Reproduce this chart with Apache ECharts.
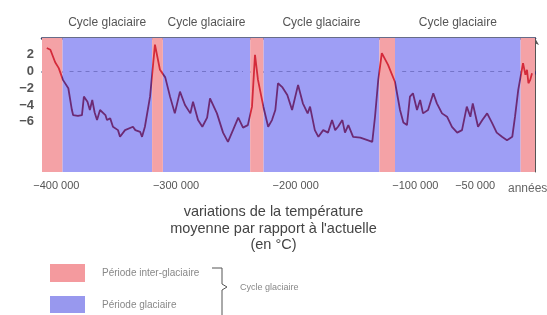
<!DOCTYPE html>
<html>
<head>
<meta charset="utf-8">
<script src="https://cdn.jsdelivr.net/npm/echarts@6/dist/echarts.min.js"></script>
<style>
  html, body { margin: 0; padding: 0; background: #fff; }
  #chart { width: 547px; height: 315px; }
</style>
</head>
<body>
<div id="chart"></div>
<script>
// années (avant aujourd'hui) et écart de température (°C)
var years = [-408000, -405000, -401000, -398000, -394500, -390000, -388600, -387000, -386000, -382000,
  -378600, -377000, -374000, -372000, -370000, -368000, -366000, -363500, -359000, -357700,
  -355000, -352700, -348500, -346800, -342600, -341000, -336000, -334000, -330000, -328400,
  -326000, -321700, -317600, -313400, -309000, -305000, -301000, -296700, -292500, -288000,
  -285800, -281600, -278000, -274000, -271600, -265800, -260700, -256600, -252400, -248000,
  -244000, -240000, -236500, -234000, -231500, -227000, -223000, -219800, -217000, -214800,
  -211000, -207000, -203000, -198000, -194000, -190000, -188000, -184000, -181000, -177000,
  -173000, -169600, -167000, -164600, -161000, -158800, -156000, -152000, -146000, -140000,
  -136000, -133700, -131000, -128000, -122800, -117000, -112800, -110000, -107000, -104500,
  -102000, -98600, -96000, -93600, -89400, -85000, -82000, -77700, -73500, -69400,
  -65000, -61000, -57000, -54000, -52000, -47600, -44000, -40000, -36000, -32000,
  -27600, -23400, -19000, -16700, -14000, -10000, -8000, -6700, -5500, -4000, -2500];
var temps = [2.8, 2.6, 1.1, 0.4, -1.0, -2.0, -2.2, -4.6, -5.2, -5.3,
  -5.2, -3.0, -3.6, -4.6, -3.4, -4.9, -5.8, -4.6, -5.2, -5.8,
  -5.6, -6.6, -7.0, -7.8, -7.0, -6.8, -6.6, -7.0, -7.2, -7.8,
  -6.6, -3.0, 3.2, 0.2, -0.7, -3.0, -5.0, -2.4, -4.0, -5.0,
  -3.6, -5.8, -6.6, -5.5, -3.2, -5.0, -7.3, -8.4, -7.0, -5.5,
  -6.7, -6.4, -4.2, 2.0, -1.0, -4.2, -6.6, -5.8, -4.6, -1.4,
  -1.9, -2.8, -4.6, -1.6, -3.8, -5.0, -4.2, -7.0, -7.8, -7.0,
  -7.3, -5.8, -7.0, -6.6, -5.8, -7.3, -6.4, -7.8, -7.9, -8.2,
  -8.4, -5.4, -1.0, 2.2, 0.8, -1.25, -4.6, -6.1, -6.4, -3.0,
  -2.6, -4.6, -3.4, -5.0, -4.6, -2.6, -3.8, -5.0, -5.4, -6.6,
  -7.3, -7.0, -4.2, -5.4, -3.8, -6.6, -5.8, -5.0, -6.1, -7.3,
  -7.8, -8.2, -7.8, -5.4, -2.2, 1.0, -0.4, 0.2, -1.4, -1.0, -0.2];

// périodes inter-glaciaires et glaciaires (années)
var interglacials = [[-412000, -395000], [-320000, -311000], [-238000, -227000], [-130000, -117000], [-12000, 0]];
var glacials = [[-395000, -320000], [-311000, -238000], [-227000, -130000], [-117000, -12000]];
var cycleLabel = 'Cycle glaciaire';

var xLabelValues = [-400000, -300000, -200000, -100000, -50000];
var yLabelValues = [-6, -4, -2, 0, 2];

var xTicks = [];
for (var t = -410000; t <= 0; t += 10000) xTicks.push(t);

var chart = echarts.init(document.getElementById('chart'));
var font = '"Liberation Sans", Arial, sans-serif';

function fmtYear(v) {
  var s = String(Math.abs(v));
  s = s.replace(/\B(?=(\d{3})+(?!\d))/g, ' ');
  return '\u2212' + s;
}

var option = {
  animation: false,
  textStyle: { fontFamily: font },
  title: {
    text: 'variations de la température\nmoyenne par rapport à l\'actuelle\n(en °C)',
    left: 'center',
    top: 199,
    textStyle: { fontSize: 14.5, fontWeight: 'normal', color: '#444', lineHeight: 16.5, fontFamily: font }
  },
  grid: { left: 42, right: 12, top: 38, bottom: 143 },
  xAxis: [{
    type: 'value',
    min: -412000,
    max: 0,
    axisLine: { lineStyle: { color: '#2c3468', width: 1.5 } },
    axisTick: { customValues: xTicks, length: 3, lineStyle: { color: '#2c3468' } },
    axisLabel: {
      customValues: xLabelValues,
      formatter: fmtYear,
      color: '#555',
      fontSize: 11,
      margin: 8
    },
    splitLine: { show: false }
  }, {
    type: 'value',
    position: 'top',
    min: -412000,
    max: 0,
    axisLine: { show: true, lineStyle: { color: '#343c62', width: 2.5 } },
    axisTick: { show: false },
    axisLabel: { show: false },
    splitLine: { show: false }
  }],
  yAxis: {
    type: 'value',
    min: -12,
    max: 4,
    interval: 2,
    axisLine: { show: true, symbol: ['none', 'arrow'], symbolSize: [6, 7], lineStyle: { color: '#555', width: 1 } },
    axisTick: { show: true, customValues: yLabelValues, length: 4, lineStyle: { color: '#666' } },
    axisLabel: {
      customValues: yLabelValues,
      formatter: function (v) { return v < 0 ? '\u2212' + Math.abs(v) : String(v); },
      color: '#555',
      fontSize: 13,
      fontWeight: 'bold',
      margin: 8,
      padding: [0, 0, 6, 0]
    },
    splitLine: { show: false }
  },
  visualMap: {
    show: false,
    type: 'piecewise',
    dimension: 0,
    seriesIndex: 2,
    pieces: interglacials.map(function (s) { return { gte: s[0], lte: s[1], color: '#d42a3a' }; }),
    outOfRange: { color: '#6c2a74' }
  },
  series: [{
    name: 'Période glaciaire',
    type: 'line',
    data: [],
    silent: true,
    markArea: {
      silent: true,
      itemStyle: { color: '#9e9ef5' },
      label: {
        show: true,
        position: 'top',
        distance: 9,
        color: '#555',
        fontSize: 12,
        fontFamily: font
      },
      data: glacials.map(function (s) { return [{ name: cycleLabel, xAxis: s[0] }, { xAxis: s[1] }]; })
    },
    markLine: {
      silent: true,
      symbol: 'none',
      label: { show: false },
      lineStyle: { color: '#7474c8', type: [4, 4], width: 1 },
      data: glacials.map(function (s) { return [{ coord: [s[0] + 6000, 0] }, { coord: [s[1] - 6000, 0] }]; })
    }
  }, {
    name: 'Période inter-glaciaire',
    type: 'line',
    data: [],
    silent: true,
    markArea: {
      silent: true,
      itemStyle: { color: '#f4a2a6' },
      data: interglacials.map(function (s) { return [{ xAxis: s[0] }, { xAxis: s[1] }]; })
    }
  }, {
    name: 'température',
    type: 'line',
    data: years.map(function (y, i) { return [y, temps[i]]; }),
    showSymbol: false,
    lineStyle: { width: 1.8 },
    z: 5
  }],
  graphic: [
    { type: 'rect', left: 50, top: 264, shape: { width: 35, height: 18 }, style: { fill: '#f49a9e' } },
    { type: 'rect', left: 50, top: 296, shape: { width: 35, height: 17 }, style: { fill: '#9898ee' } },
    { type: 'text', left: 102, top: 268, style: { text: 'Période inter-glaciaire', fill: '#888', font: '10px ' + font } },
    { type: 'text', left: 102, top: 300, style: { text: 'Période glaciaire', fill: '#888', font: '10px ' + font } },
    { type: 'polyline', shape: { points: [[212, 268], [222, 268], [222, 284], [227, 287], [222, 290], [222, 315]] },
      style: { stroke: '#555', fill: null, lineWidth: 1 } },
    { type: 'text', left: 240, top: 283, style: { text: 'Cycle glaciaire', fill: '#888', font: '9px ' + font } },
    { type: 'text', left: 508, top: 183, style: { text: 'années', fill: '#666', font: '12px ' + font } }
  ]
};

chart.setOption(option);
</script>
</body>
</html>
